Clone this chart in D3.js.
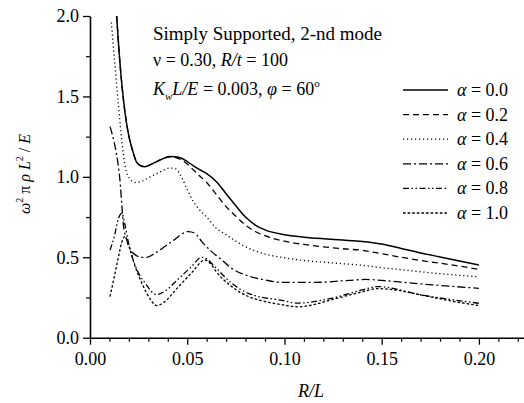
<!DOCTYPE html>
<html><head><meta charset="utf-8">
<script src="https://cdn.jsdelivr.net/npm/d3@7"></script>
<style>
html,body{margin:0;padding:0;background:#fff;}
svg{display:block;font-family:"Liberation Serif","Times New Roman",serif;}
</style></head>
<body>
<svg id="c" width="524" height="403"></svg>
<script>
// ---- data ----
const alphaLabels = ["0.0","0.2","0.4","0.6","0.8","1.0"];
const rl_a00 = [0.0137,0.015,0.0165,0.018,0.0197,0.022,0.024,0.026,0.0283,0.031,0.0343,0.038,0.041,0.044,0.047,0.050,0.053,0.0566,0.060,0.065,0.070,0.075,0.080,0.085,0.090,0.100,0.110,0.120,0.130,0.140,0.150,0.160,0.170,0.180,0.190,0.200];
const w_a00  = [2.00,1.77,1.56,1.40,1.27,1.16,1.09,1.07,1.063,1.075,1.095,1.115,1.126,1.125,1.116,1.095,1.07,1.043,1.02,0.97,0.895,0.82,0.75,0.70,0.67,0.64,0.625,0.615,0.607,0.598,0.582,0.555,0.527,0.502,0.477,0.452];
const rl_a02 = [0.0137,0.015,0.0165,0.018,0.0197,0.022,0.024,0.026,0.0283,0.031,0.0343,0.038,0.041,0.044,0.047,0.050,0.053,0.056,0.060,0.065,0.070,0.075,0.080,0.085,0.090,0.100,0.110,0.120,0.130,0.140,0.150,0.160,0.170,0.180,0.190,0.200];
const w_a02  = [2.00,1.77,1.56,1.40,1.27,1.16,1.09,1.07,1.063,1.075,1.095,1.115,1.124,1.12,1.105,1.08,1.045,1.01,0.965,0.89,0.815,0.755,0.70,0.66,0.634,0.60,0.58,0.565,0.553,0.543,0.522,0.50,0.48,0.463,0.445,0.425];
const rl_a04 = [0.011,0.0129,0.0146,0.0163,0.018,0.0206,0.0235,0.027,0.031,0.036,0.041,0.044,0.047,0.050,0.053,0.056,0.060,0.065,0.070,0.075,0.080,0.090,0.100,0.110,0.120,0.130,0.140,0.150,0.160,0.170,0.180,0.190,0.200];
const w_a04  = [1.96,1.685,1.45,1.23,1.07,0.985,0.965,0.975,1.0,1.03,1.055,1.05,1.0,0.92,0.85,0.80,0.75,0.68,0.64,0.60,0.565,0.52,0.497,0.48,0.47,0.46,0.45,0.435,0.423,0.41,0.398,0.388,0.379];
const rl_a06 = [0.0103,0.0129,0.0146,0.0154,0.0163,0.0171,0.0189,0.0214,0.0266,0.0292,0.0334,0.042,0.0506,0.054,0.0575,0.0626,0.0678,0.0729,0.0814,0.090,0.0986,0.1157,0.1363,0.1415,0.153,0.1706,0.200];
const w_a06  = [1.312,1.188,1.063,0.98,0.836,0.711,0.608,0.535,0.50,0.50,0.525,0.597,0.66,0.649,0.597,0.535,0.483,0.431,0.384,0.359,0.344,0.344,0.359,0.362,0.353,0.334,0.307];
const rl_a08 = [0.0103,0.0125,0.0146,0.0165,0.018,0.020,0.0232,0.0283,0.0343,0.038,0.045,0.052,0.0575,0.060,0.0643,0.0729,0.0814,0.0986,0.107,0.124,0.140,0.148,0.1706,0.200];
const w_a08  = [0.545,0.63,0.74,0.775,0.70,0.58,0.45,0.34,0.268,0.285,0.36,0.44,0.50,0.49,0.44,0.338,0.276,0.232,0.215,0.245,0.297,0.318,0.265,0.214];
const rl_a10 = [0.0103,0.0125,0.0146,0.0165,0.018,0.020,0.023,0.027,0.031,0.0343,0.038,0.045,0.052,0.0592,0.062,0.065,0.0729,0.0814,0.090,0.0986,0.107,0.115,0.124,0.140,0.148,0.155,0.1706,0.185,0.200];
const w_a10  = [0.255,0.38,0.50,0.60,0.63,0.57,0.45,0.33,0.24,0.20,0.22,0.31,0.40,0.483,0.46,0.41,0.318,0.256,0.225,0.205,0.192,0.205,0.235,0.285,0.305,0.30,0.265,0.23,0.20];
const xTicks = [0.00,0.05,0.10,0.15,0.20];
const yTicks = [0.0,0.5,1.0,1.5,2.0];

const seriesX = [rl_a00,rl_a02,rl_a04,rl_a06,rl_a08,rl_a10];
const seriesY = [w_a00,w_a02,w_a04,w_a06,w_a08,w_a10];
const dashes = [null,"6,4","1.2,2.8","8,3,2,3","6,2.5,1.5,2.5,1.5,2.5","2.6,2"];

// ---- drawing ----
const svg = d3.select("#c");
const x = d3.scaleLinear().domain([0,0.2237]).range([90,525]);
const y = d3.scaleLinear().domain([0,2]).range([337.7,16]);

const fontSize = 18;

// minor ticks
const xMinor = d3.range(1,23).map(i=>i/100).filter(v=>Math.abs(v*20-Math.round(v*20))>1e-6);
svg.append("g").attr("transform","translate(0,337.7)")
  .call(d3.axisBottom(x).tickValues(xMinor).tickSize(4).tickFormat(""))
  .call(g=>g.select(".domain").remove())
  .call(g=>g.selectAll("line").attr("stroke","#000").attr("stroke-width",1.2));
svg.append("g").attr("transform","translate(90,0)")
  .call(d3.axisLeft(y).tickValues([0.25,0.75,1.25,1.75]).tickSize(4).tickFormat(""))
  .call(g=>g.select(".domain").remove())
  .call(g=>g.selectAll("line").attr("stroke","#000").attr("stroke-width",1.2));

// major axes
const gx = svg.append("g").attr("transform","translate(0,337.7)")
  .call(d3.axisBottom(x).tickValues(xTicks).tickSize(7).tickSizeOuter(0).tickPadding(8).tickFormat(d3.format(".2f")));
const gy = svg.append("g").attr("transform","translate(90,0)")
  .call(d3.axisLeft(y).tickValues(yTicks).tickSize(7).tickSizeOuter(0).tickPadding(4).tickFormat(d3.format(".1f")));
[gx,gy].forEach(g=>{
  g.select(".domain").attr("stroke","#000").attr("stroke-width",1.6);
  g.selectAll(".tick line").attr("stroke","#000").attr("stroke-width",1.3);
  g.selectAll(".tick text").attr("font-family","Liberation Serif").attr("font-size",fontSize).attr("fill","#000");
});

// curves
const line = d3.line().x(d=>x(d[0])).y(d=>y(d[1])).curve(d3.curveMonotoneX);
seriesX.forEach((xs,i)=>{
  const pts = xs.map((v,j)=>[v,seriesY[i][j]]);
  svg.append("path").attr("d",line(pts)).attr("fill","none").attr("stroke","#000")
    .attr("stroke-width", i===0?1.5:1.3)
    .attr("stroke-dasharray", dashes[i]);
});

// axis labels
svg.append("text").attr("x",311).attr("y",397).attr("text-anchor","middle")
  .attr("font-size",fontSize).attr("font-style","italic").text("R/L");

const yl = svg.append("text").attr("transform","translate(30,174) rotate(-90)")
  .attr("text-anchor","middle").attr("font-size",16);
yl.append("tspan").attr("font-style","italic").text("ω");
yl.append("tspan").attr("font-size",10).attr("dy",-7).text("2");
yl.append("tspan").attr("dy",7).text(" π ");
yl.append("tspan").attr("font-style","italic").text("ρ L");
yl.append("tspan").attr("font-size",10).attr("dy",-7).text("2");
yl.append("tspan").attr("dy",7).text(" / ");
yl.append("tspan").attr("font-style","italic").text("E");

// annotation
const ann = svg.append("g").attr("font-size",fontSize);
ann.append("text").attr("x",153).attr("y",40).attr("font-size",19).text("Simply Supported, 2-nd mode");
const l2 = ann.append("text").attr("x",153).attr("y",66);
l2.append("tspan").text("ν = 0.30, ");
l2.append("tspan").attr("font-style","italic").text("R/t");
l2.append("tspan").text(" = 100");
const l3 = ann.append("text").attr("x",153).attr("y",95);
l3.append("tspan").attr("font-style","italic").text("K");
l3.append("tspan").attr("font-style","italic").attr("font-size",11).attr("dy",5).text("w");
l3.append("tspan").attr("font-style","italic").attr("dy",-5).text("L/E");
l3.append("tspan").text(" = 0.003, ");
l3.append("tspan").attr("font-style","italic").text("φ");
l3.append("tspan").text(" = 60");
l3.append("tspan").attr("font-size",11).attr("dy",-8).text("o");

// legend
alphaLabels.forEach((lab,i)=>{
  const by = 96 + i*24.6;
  svg.append("line").attr("x1",403).attr("x2",448).attr("y1",by-6).attr("y2",by-6)
    .attr("stroke","#000").attr("stroke-width",i===0?1.5:1.3).attr("stroke-dasharray",dashes[i]);
  const t = svg.append("text").attr("x",457).attr("y",by).attr("font-size",fontSize);
  t.append("tspan").attr("font-style","italic").text("α");
  t.append("tspan").text(" = "+lab);
});
</script>
</body></html>
